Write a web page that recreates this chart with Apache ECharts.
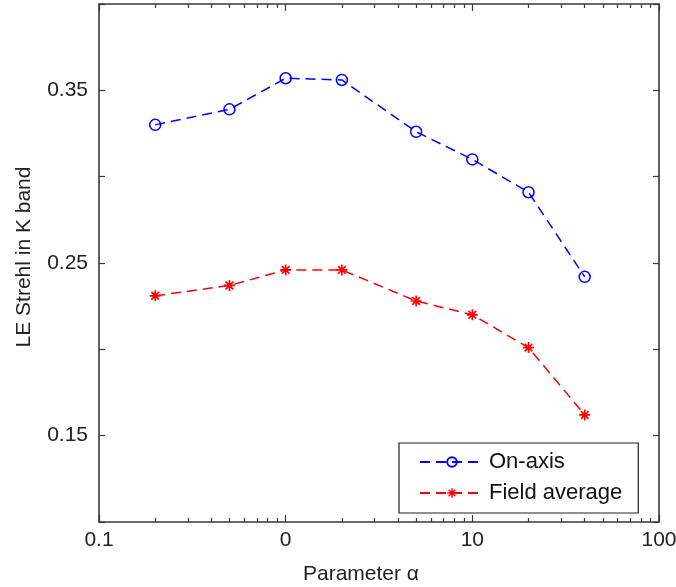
<!DOCTYPE html>
<html>
<head>
<meta charset="utf-8">
<script src="https://cdn.jsdelivr.net/npm/echarts@6/dist/echarts.min.js"></script>
<style>
html,body{margin:0;padding:0;background:#fff;}
#chart{width:676px;height:587px;}
</style>
</head>
<body>
<div id="chart"></div>
<script>
// ---- data ----
var alphaValues = [0.2, 0.5, 1, 2, 5, 10, 20, 40];
var onAxis = [0.330, 0.339, 0.357, 0.356, 0.326, 0.310, 0.291, 0.242];
var fieldAverage = [0.231, 0.237, 0.246, 0.246, 0.228, 0.220, 0.201, 0.162];
var seriesNames = ['On-axis', 'Field average'];
var xMajorTicks = [0.1, 1, 10, 100];
var xMajorLabels = ['0.1', '0', '10', '100'];
var xMinorTicks = [0.2,0.3,0.4,0.5,0.6,0.7,0.8,0.9,2,3,4,5,6,7,8,9,20,30,40,50,60,70,80,90];
var yLabelValues = [0.15, 0.25, 0.35];
var yLabels = ['0.15', '0.25', '0.35'];
var xTitle = 'Parameter \u03b1';
var yTitle = 'LE Strehl in K band';

function pair(xs, ys) { return xs.map(function (x, i) { return [x, ys[i]]; }); }
function nearestLabel(vals, labs, v) {
  var best = 0, bd = Infinity;
  for (var i = 0; i < vals.length; i++) {
    var d = Math.abs(Math.log(vals[i]) - Math.log(v));
    if (d < bd) { bd = d; best = i; }
  }
  return labs[best];
}
function nearestLin(vals, labs, v) {
  var best = 0, bd = Infinity;
  for (var i = 0; i < vals.length; i++) {
    var d = Math.abs(vals[i] - v);
    if (d < bd) { bd = d; best = i; }
  }
  return labs[best];
}

var FONT = 'Liberation Sans, Arial, sans-serif';
var AX = '#3a3a3a';
var asterisk = 'path://M0 8.5L20 8.5L20 11.5L0 11.5Z M8.5 0L11.5 0L11.5 20L8.5 20Z M4.06 1.94L18.06 15.94L15.94 18.06L1.94 4.06Z M15.94 1.94L18.06 4.06L4.06 18.06L1.94 15.94Z';

function xAx(pos, ticks, len, showLine, showLabel) {
  return {
    type: 'log', logBase: 10, min: 0.1, max: 100, position: pos,
    axisLine: { show: showLine, onZero: false, lineStyle: { color: AX, width: 1.6 } },
    axisTick: { show: true, inside: true, length: len, customValues: ticks, lineStyle: { color: AX, width: 1.2 } },
    axisLabel: showLabel ? {
      show: true, customValues: xMajorTicks, margin: 8, color: '#222', fontFamily: FONT, fontSize: 21,
      formatter: function (v) { return nearestLabel(xMajorTicks, xMajorLabels, v); }
    } : { show: false },
    splitLine: { show: false }, minorTick: { show: false }
  };
}

var chart = echarts.init(document.getElementById('chart'), null, { renderer: 'canvas' });
var xaxes = [
  xAx('bottom', xMajorTicks, 7, true, true),
  xAx('bottom', xMinorTicks, 4, false, false),
  xAx('top', xMajorTicks, 7, true, false),
  xAx('top', xMinorTicks, 4, false, false)
];
xaxes[0].name = xTitle;
xaxes[0].nameLocation = 'middle';
xaxes[0].nameGap = 42;
xaxes[0].nameTextStyle = { color: '#222', fontFamily: FONT, fontSize: 21, padding: [0, 36, 0, 0] };

chart.setOption({
  backgroundColor: '#fff',
  animation: false,
  grid: { left: 99, right: 17, top: 4, bottom: 65, containLabel: false, outerBoundsMode: 'none' },
  xAxis: xaxes,
  yAxis: [
    {
      type: 'value', min: 0.1, max: 0.4, interval: 0.05, position: 'left',
      axisLine: { show: true, onZero: false, lineStyle: { color: AX, width: 1.6 } },
      axisTick: { show: true, inside: true, length: 6, lineStyle: { color: AX, width: 1.2 } },
      axisLabel: {
        show: true, customValues: yLabelValues, margin: 11, color: '#222', fontFamily: FONT, fontSize: 21,
        formatter: function (v) { return nearestLin(yLabelValues, yLabels, v); }
      },
      splitLine: { show: false },
      name: yTitle, nameLocation: 'middle', nameGap: 64, nameRotate: 90,
      nameTextStyle: { color: '#222', fontFamily: FONT, fontSize: 21, padding: [0, 0, 0, 12] }
    },
    {
      type: 'value', min: 0.1, max: 0.4, interval: 0.05, position: 'right',
      axisLine: { show: true, onZero: false, lineStyle: { color: AX, width: 1.6 } },
      axisTick: { show: true, inside: true, length: 6, lineStyle: { color: AX, width: 1.2 } },
      axisLabel: { show: false }, splitLine: { show: false }
    }
  ],
  legend: {
    orient: 'vertical', left: 399, top: 443,
    backgroundColor: '#fff', borderColor: '#222', borderWidth: 1.2, borderRadius: 0,
    padding: [8, 16, 9, 20], itemGap: 9, itemWidth: 64, itemHeight: 12,
    textStyle: { color: '#111', fontFamily: FONT, fontSize: 22, lineHeight: 22 },
    data: seriesNames
  },
  series: [
    {
      name: seriesNames[0], type: 'line', xAxisIndex: 0, yAxisIndex: 0,
      data: pair(alphaValues, onAxis),
      symbol: 'circle', symbolSize: 11,
      itemStyle: { color: 'rgba(255,255,255,0)', borderColor: '#0000ff', borderWidth: 1.5 },
      lineStyle: { color: '#0000ff', width: 1.5, type: [10, 6] }
    },
    {
      name: seriesNames[1], type: 'line', xAxisIndex: 0, yAxisIndex: 0,
      data: pair(alphaValues, fieldAverage),
      symbol: asterisk, symbolSize: 11,
      itemStyle: { color: '#ff0000' },
      lineStyle: { color: '#ff0000', width: 1.5, type: [10, 6] }
    }
  ]
});
</script>
</body>
</html>
